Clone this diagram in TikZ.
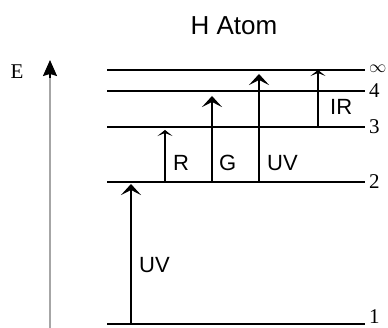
\documentclass[tikz,border=0pt]{standalone}
\usepackage{fontspec}
\setmainfont{Liberation Serif}
\setsansfont{Liberation Sans}
\usepackage{tikz}
\usetikzlibrary{arrows.meta,positioning,calc}

\begin{document}
\begin{tikzpicture}[x=1pt,y=1pt,
    every node/.style={inner sep=0pt},
    level/.style ={black,line width=1.6pt},
    lvllbl/.style={font=\fontsize{21}{21}\selectfont,anchor=west},
    axis/.style  ={gray!70,line width=1.8pt},
    trans/.style ={black,line width=1.6pt,-{Stealth[length=11pt,width=20pt,inset=5pt]}},
    weak/.style  ={black,line width=1.4pt,-{Stealth[length=6pt,width=15pt,inset=3pt]}},
    tlbl/.style  ={font=\sffamily\fontsize{22}{22}\selectfont,anchor=west},
  ]
  \useasboundingbox (0,0) rectangle (388,328);

  % title
  \node[font=\sffamily\fontsize{26}{26}\selectfont] (title) at (234,302) {H Atom};

  % energy axis
  \coordinate (axbot) at (50,0);
  \coordinate (axtop) at (50,268);
  \draw[axis] (axbot) -- (50,258);
  \draw[black,line width=1.6pt,-{Stealth[length=16pt,width=14pt,inset=2pt]}] (50,250) -- (axtop);
  \node[font=\fontsize{21}{21}\selectfont] (E) at (17,256) {E};

  % energy levels
  \foreach \n/\y/\lbl/\dy in {1/4/1/7, 2/146/2/0, 3/201/3/0, 4/237/4/0, inf/258/{\fontsize{18}{18}\selectfont$\infty$}/1} {
     \coordinate (L\n) at (107,\y);
     \coordinate (R\n) at (365,\y);
     \draw[level] (L\n) -- (R\n);
     \node[lvllbl] (n\n) at ([xshift=4pt,yshift=\dy pt]R\n) {\lbl};
  }

  % transitions
  \coordinate (uvA) at ([xshift=24pt]L1);
  \coordinate (rA)  at ([xshift=58pt]L2);
  \coordinate (gA)  at ([xshift=105pt]L2);
  \coordinate (uvB) at ([xshift=152pt]L2);
  \coordinate (irA) at ([xshift=211pt]L3);
  \draw[trans] (uvA) -- ([yshift=-2pt]uvA |- L2);
  \draw[weak]  (rA)  -- ([yshift=-3pt]rA |- L3);
  \draw[trans] (gA)  -- ([yshift=-5pt]gA |- L4);
  \draw[trans] (uvB) -- ([yshift=-4pt]uvB |- Linf);
  \draw[weak]  (irA) -- (irA |- Linf);

  \node[tlbl] (uvAl) at (139,63)  {UV};
  \node[tlbl] (rl)   at (173,165) {R};
  \node[tlbl] (gl)   at (219,165) {G};
  \node[tlbl] (uvBl) at (267,165) {UV};
  \node[tlbl] (irl)  at (330,221) {IR};
\end{tikzpicture}
\end{document}
